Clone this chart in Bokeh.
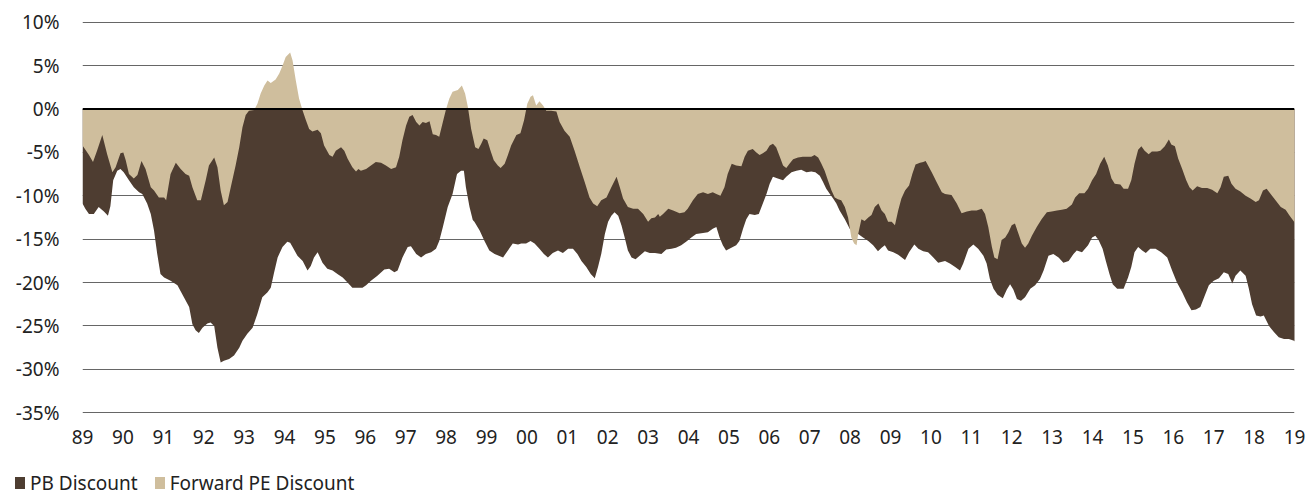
from bokeh.plotting import figure
from bokeh.layouts import column
from bokeh.models import Range1d, FixedTicker, Span, ColumnDataSource, Div
from bokeh.embed import file_html
from bokeh.resources import INLINE

# ---- data (decimal years, % discount) ----
pe_x = [1989.00, 1989.03, 1989.16, 1989.26, 1989.36, 1989.49, 1989.61, 1989.74, 1989.82, 1989.94,
        1990.01, 1990.07, 1990.15, 1990.27, 1990.36, 1990.46, 1990.56, 1990.69, 1990.77, 1990.89,
        1991.02, 1991.07, 1991.18, 1991.31, 1991.43, 1991.55, 1991.64, 1991.72, 1991.84, 1991.93,
        1992.05, 1992.13, 1992.26, 1992.34, 1992.42, 1992.50, 1992.59, 1992.67, 1992.79, 1992.88,
        1992.96, 1993.04, 1993.12, 1993.25, 1993.33, 1993.41, 1993.50, 1993.58, 1993.66, 1993.78,
        1993.87, 1993.95, 1994.03, 1994.14, 1994.20, 1994.28, 1994.36, 1994.45, 1994.53, 1994.61,
        1994.69, 1994.82, 1994.90, 1994.98, 1995.11, 1995.19, 1995.27, 1995.40, 1995.48, 1995.56,
        1995.68, 1995.77, 1995.83, 1995.89, 1996.02, 1996.14, 1996.26, 1996.39, 1996.51, 1996.64,
        1996.76, 1996.84, 1996.92, 1997.01, 1997.09, 1997.17, 1997.26, 1997.34, 1997.42, 1997.50,
        1997.59, 1997.67, 1997.75, 1997.83, 1997.92, 1998.00, 1998.08, 1998.16, 1998.29, 1998.39,
        1998.47, 1998.54, 1998.62, 1998.72, 1998.80, 1998.87, 1998.93, 1999.02, 1999.10, 1999.18,
        1999.28, 1999.35, 1999.45, 1999.53, 1999.61, 1999.74, 1999.84, 1999.93, 2000.01, 2000.09,
        2000.15, 2000.23, 2000.31, 2000.40, 2000.48, 2000.60, 2000.73, 2000.81, 2000.93, 2001.06,
        2001.18, 2001.31, 2001.43, 2001.55, 2001.64, 2001.74, 2001.84, 2001.97, 2002.09, 2002.22,
        2002.30, 2002.38, 2002.50, 2002.63, 2002.75, 2002.88, 2003.00, 2003.08, 2003.17, 2003.25,
        2003.29, 2003.37, 2003.50, 2003.62, 2003.78, 2003.90, 2003.98, 2004.11, 2004.23, 2004.36,
        2004.48, 2004.60, 2004.69, 2004.79, 2004.89, 2004.97, 2005.07, 2005.18, 2005.31, 2005.39,
        2005.47, 2005.59, 2005.68, 2005.76, 2005.84, 2005.93, 2006.01, 2006.09, 2006.17, 2006.26,
        2006.34, 2006.42, 2006.50, 2006.59, 2006.71, 2006.83, 2006.96, 2007.04, 2007.12, 2007.21,
        2007.29, 2007.37, 2007.45, 2007.54, 2007.62, 2007.70, 2007.78, 2007.87, 2007.95, 2008.03,
        2008.10, 2008.16, 2008.20, 2008.28, 2008.36, 2008.45, 2008.53, 2008.61, 2008.70, 2008.78,
        2008.86, 2008.94, 2009.03, 2009.11, 2009.19, 2009.27, 2009.36, 2009.46, 2009.54, 2009.62,
        2009.73, 2009.81, 2009.87, 2009.93, 2010.02, 2010.14, 2010.27, 2010.35, 2010.51, 2010.64,
        2010.76, 2010.89, 2011.01, 2011.13, 2011.26, 2011.34, 2011.42, 2011.51, 2011.57, 2011.65,
        2011.75, 2011.84, 2011.92, 2012.00, 2012.08, 2012.17, 2012.25, 2012.33, 2012.41, 2012.50,
        2012.62, 2012.74, 2012.87, 2012.99, 2013.12, 2013.24, 2013.36, 2013.49, 2013.57, 2013.67,
        2013.80, 2013.89, 2013.99, 2014.09, 2014.19, 2014.29, 2014.38, 2014.47, 2014.55, 2014.69,
        2014.77, 2014.88, 2014.96, 2015.04, 2015.13, 2015.21, 2015.29, 2015.39, 2015.47, 2015.60,
        2015.68, 2015.79, 2015.89, 2015.95, 2016.04, 2016.12, 2016.22, 2016.32, 2016.40, 2016.48,
        2016.59, 2016.71, 2016.84, 2016.96, 2017.09, 2017.17, 2017.25, 2017.36, 2017.44, 2017.54,
        2017.66, 2017.79, 2017.91, 2018.04, 2018.12, 2018.22, 2018.31, 2018.41, 2018.53, 2018.66,
        2018.78, 2018.88, 2018.99, 2019.05]
pe_y = [-4.2, -4.4, -5.3, -6.1, -4.8, -3.0, -5.2, -7.3, -6.7, -5.1,
        -5.0, -5.9, -7.5, -8.0, -7.6, -6.0, -6.9, -9.0, -9.4, -10.2,
        -10.2, -10.5, -7.5, -6.2, -6.9, -7.5, -7.7, -9.0, -10.5, -10.5,
        -8.2, -6.5, -5.6, -6.7, -9.4, -11.1, -10.7, -9.0, -6.5, -4.4,
        -2.1, -0.7, -0.2, -0.1, 0.6, 1.8, 2.7, 3.3, 3.0, 3.4,
        4.1, 5.0, 6.0, 6.5, 5.6, 3.3, 1.2, -0.2, -1.3, -2.3,
        -2.6, -2.4, -2.8, -4.2, -5.3, -5.5, -4.8, -4.4, -4.8, -5.7,
        -6.7, -7.2, -6.9, -7.1, -6.9, -6.5, -6.1, -6.2, -6.5, -6.9,
        -6.7, -5.5, -3.6, -1.9, -0.9, -0.7, -1.5, -1.9, -1.5, -1.6,
        -1.4, -2.9, -3.0, -3.2, -1.5, 0.0, 1.2, 2.0, 2.2, 2.7,
        1.8, 0.2, -2.3, -4.4, -4.6, -4.0, -3.4, -3.6, -4.8, -5.9,
        -6.5, -6.8, -6.3, -5.3, -4.2, -3.0, -2.8, -1.3, 0.6, 1.4,
        1.6, 0.4, 0.9, 0.4, -0.2, -0.2, -0.3, -1.5, -2.5, -3.2,
        -4.8, -6.7, -8.4, -10.2, -10.9, -11.2, -10.5, -10.2, -9.0, -7.8,
        -9.0, -10.3, -11.3, -11.5, -11.5, -12.1, -13.0, -12.6, -12.5, -12.1,
        -12.4, -12.1, -11.5, -11.7, -12.0, -11.9, -11.5, -10.5, -9.8, -9.6,
        -9.8, -9.6, -9.8, -10.0, -9.0, -7.5, -6.3, -6.5, -6.6, -5.5,
        -4.8, -4.6, -5.0, -5.3, -5.1, -4.8, -4.2, -4.0, -4.4, -5.5,
        -6.5, -6.8, -6.3, -5.8, -5.6, -5.5, -5.5, -5.5, -5.3, -5.6,
        -6.3, -7.1, -8.2, -9.4, -10.2, -10.4, -10.5, -11.3, -12.5, -14.8,
        -15.5, -15.7, -14.4, -12.7, -12.9, -12.5, -12.2, -11.3, -10.9, -11.7,
        -12.1, -13.0, -13.0, -13.4, -11.7, -10.3, -9.4, -8.8, -7.5, -6.4,
        -6.2, -6.1, -6.0, -6.5, -7.3, -8.4, -9.6, -9.8, -9.9, -10.9,
        -12.0, -11.8, -11.7, -11.7, -11.5, -12.1, -13.6, -15.9, -17.1, -17.3,
        -15.1, -14.8, -14.2, -13.4, -13.2, -14.4, -15.5, -16.0, -15.5, -14.6,
        -13.6, -12.7, -11.9, -11.8, -11.7, -11.6, -11.5, -11.0, -10.2, -9.7,
        -9.7, -9.2, -8.2, -7.5, -6.3, -5.5, -6.5, -8.0, -8.6, -8.7,
        -9.2, -9.2, -8.2, -6.3, -4.7, -4.3, -4.8, -5.2, -4.9, -4.9,
        -4.8, -4.3, -3.5, -4.1, -4.3, -5.7, -6.9, -8.2, -9.0, -9.4,
        -8.9, -9.1, -9.1, -9.3, -9.7, -9.0, -7.8, -7.7, -8.6, -9.2,
        -9.5, -10.0, -10.3, -10.7, -10.5, -9.4, -9.2, -9.8, -10.5, -11.3,
        -11.6, -12.3, -13.0, -13.4]

pb_x = [1989.00, 1989.07, 1989.16, 1989.28, 1989.40, 1989.53, 1989.63, 1989.69, 1989.76, 1989.86,
        1989.94, 1990.02, 1990.15, 1990.27, 1990.40, 1990.48, 1990.60, 1990.69, 1990.77, 1990.85,
        1990.93, 1991.02, 1991.18, 1991.35, 1991.51, 1991.64, 1991.72, 1991.80, 1991.88, 1991.97,
        1992.09, 1992.17, 1992.26, 1992.34, 1992.42, 1992.50, 1992.63, 1992.75, 1992.88, 1992.96,
        1993.08, 1993.21, 1993.33, 1993.45, 1993.58, 1993.66, 1993.74, 1993.83, 1993.95, 1994.07,
        1994.14, 1994.20, 1994.32, 1994.45, 1994.57, 1994.65, 1994.73, 1994.82, 1994.94, 1995.06,
        1995.19, 1995.31, 1995.44, 1995.56, 1995.68, 1995.81, 1995.93, 1996.02, 1996.14, 1996.30,
        1996.47, 1996.59, 1996.72, 1996.80, 1996.92, 1997.05, 1997.13, 1997.26, 1997.38, 1997.50,
        1997.63, 1997.75, 1997.83, 1997.92, 1998.04, 1998.16, 1998.27, 1998.37, 1998.44, 1998.49,
        1998.58, 1998.66, 1998.70, 1998.83, 1998.95, 1999.07, 1999.20, 1999.41, 1999.53, 1999.65,
        1999.78, 1999.86, 1999.98, 2000.09, 2000.19, 2000.31, 2000.42, 2000.52, 2000.64, 2000.77,
        2000.89, 2001.02, 2001.14, 2001.25, 2001.35, 2001.47, 2001.58, 2001.68, 2001.76, 2001.84,
        2001.93, 2002.01, 2002.09, 2002.17, 2002.26, 2002.34, 2002.42, 2002.50, 2002.59, 2002.69,
        2002.79, 2002.92, 2003.04, 2003.17, 2003.33, 2003.45, 2003.58, 2003.69, 2003.82, 2003.94,
        2004.07, 2004.19, 2004.36, 2004.48, 2004.60, 2004.69, 2004.77, 2004.85, 2004.93, 2005.06,
        2005.18, 2005.26, 2005.35, 2005.43, 2005.51, 2005.64, 2005.74, 2005.84, 2005.93, 2006.01,
        2006.09, 2006.21, 2006.34, 2006.42, 2006.55, 2006.67, 2006.79, 2006.92, 2007.04, 2007.14,
        2007.25, 2007.33, 2007.41, 2007.50, 2007.58, 2007.66, 2007.74, 2007.87, 2007.99, 2008.07,
        2008.20, 2008.32, 2008.45, 2008.57, 2008.69, 2008.78, 2008.86, 2008.94, 2009.07, 2009.19,
        2009.36, 2009.46, 2009.59, 2009.69, 2009.81, 2009.93, 2010.06, 2010.18, 2010.35, 2010.47,
        2010.60, 2010.72, 2010.80, 2010.93, 2011.05, 2011.17, 2011.30, 2011.38, 2011.46, 2011.55,
        2011.65, 2011.78, 2011.88, 2011.96, 2012.04, 2012.13, 2012.23, 2012.33, 2012.46, 2012.58,
        2012.70, 2012.79, 2012.91, 2013.03, 2013.16, 2013.28, 2013.41, 2013.53, 2013.61, 2013.74,
        2013.89, 2013.99, 2014.07, 2014.15, 2014.25, 2014.33, 2014.42, 2014.50, 2014.61, 2014.77,
        2014.88, 2014.96, 2015.04, 2015.13, 2015.23, 2015.32, 2015.43, 2015.56, 2015.70, 2015.85,
        2015.97, 2016.09, 2016.22, 2016.34, 2016.45, 2016.56, 2016.67, 2016.78, 2016.88, 2017.00,
        2017.13, 2017.25, 2017.36, 2017.46, 2017.54, 2017.66, 2017.79, 2017.87, 2017.95, 2018.05,
        2018.16, 2018.24, 2018.37, 2018.49, 2018.61, 2018.74, 2018.86, 2018.99, 2019.05]
pb_y = [-10.9, -11.5, -12.1, -12.1, -11.3, -11.8, -12.3, -11.2, -8.2, -7.1,
        -6.9, -7.3, -8.2, -9.0, -9.6, -9.8, -10.9, -12.1, -14.0, -16.7,
        -19.0, -19.4, -19.8, -20.3, -21.7, -22.8, -24.8, -25.5, -25.8, -25.2,
        -24.7, -24.6, -25.0, -27.5, -29.2, -29.0, -28.8, -28.4, -27.5, -26.7,
        -25.9, -25.2, -23.6, -21.7, -21.1, -20.6, -18.9, -17.1, -15.9, -15.3,
        -15.4, -15.9, -16.9, -17.5, -18.6, -18.1, -17.1, -16.5, -17.7, -18.4,
        -18.6, -19.0, -19.4, -20.0, -20.6, -20.6, -20.6, -20.3, -19.8, -19.2,
        -18.5, -18.4, -18.8, -18.6, -17.1, -15.9, -15.8, -16.7, -17.1, -16.7,
        -16.5, -16.1, -15.2, -13.6, -11.3, -9.8, -7.5, -7.1, -7.1, -9.0,
        -11.3, -12.8, -13.0, -14.0, -15.2, -16.3, -16.7, -17.1, -16.3, -15.5,
        -15.6, -15.5, -15.5, -15.2, -15.5, -16.1, -16.7, -17.1, -16.6, -16.3,
        -16.6, -16.1, -16.1, -16.7, -17.5, -18.2, -19.0, -19.5, -18.2, -16.7,
        -14.4, -13.0, -12.3, -11.9, -12.3, -13.4, -14.8, -16.3, -17.1, -17.3,
        -16.9, -16.4, -16.6, -16.6, -16.7, -16.2, -16.1, -16.0, -15.7, -15.3,
        -14.8, -14.4, -14.3, -14.2, -13.8, -13.6, -14.8, -15.7, -16.3, -16.0,
        -15.7, -15.2, -13.8, -12.7, -12.1, -12.2, -12.1, -10.9, -9.8, -8.6,
        -7.8, -8.0, -8.2, -7.8, -7.3, -7.1, -7.0, -7.3, -7.2, -7.3,
        -7.7, -8.4, -9.2, -9.8, -10.3, -10.9, -11.7, -12.7, -13.8, -14.2,
        -14.4, -14.8, -15.2, -15.7, -16.4, -16.0, -15.7, -16.3, -16.5, -16.8,
        -17.4, -16.5, -15.6, -16.1, -16.4, -16.5, -17.1, -17.7, -17.5, -17.8,
        -18.2, -18.6, -17.8, -16.1, -15.6, -16.1, -16.9, -17.8, -19.6, -20.7,
        -21.4, -21.8, -20.8, -20.2, -20.8, -21.9, -22.1, -21.7, -20.7, -20.3,
        -19.6, -18.6, -16.9, -16.7, -17.1, -17.7, -17.5, -16.7, -16.3, -16.5,
        -15.7, -14.8, -14.6, -15.1, -16.1, -17.5, -19.0, -20.2, -20.7, -20.7,
        -19.4, -18.2, -16.5, -15.9, -16.3, -16.6, -16.1, -16.1, -16.5, -17.1,
        -18.6, -20.0, -21.1, -22.3, -23.2, -23.1, -22.8, -21.5, -20.3, -19.8,
        -19.5, -18.8, -19.0, -20.1, -19.2, -18.6, -19.2, -20.7, -22.5, -23.8,
        -23.9, -23.8, -25.0, -25.7, -26.3, -26.5, -26.5, -26.7, -26.9]

year_ticks = list(range(1989, 2020))
year_labels = ["89", "90", "91", "92", "93", "94", "95", "96", "97", "98", "99",
               "00", "01", "02", "03", "04", "05", "06", "07", "08", "09",
               "10", "11", "12", "13", "14", "15", "16", "17", "18", "19"]
pct_ticks = [10, 5, 0, -5, -10, -15, -20, -25, -30, -35]
pct_labels = ["10%", "5%", "0%", "-5%", "-10%", "-15%", "-20%", "-25%", "-30%", "-35%"]

series_names = ["PB Discount", "Forward PE Discount"]
DARK = "#4e3d31"
TAN = "#cfbe9d"
series_colors = [DARK, TAN]
FONT = "Noto Sans"
TXT = "#222222"

# ---- main chart ----
p = figure(width=1309, height=470, output_backend="svg", toolbar_location=None,
           x_range=Range1d(1989, 2019), y_range=Range1d(-35.2, 10.2),
           min_border_left=82, min_border_right=15, min_border_top=20, min_border_bottom=56)
p.outline_line_color = None
p.background_fill_color = "white"

p.varea(x="x", y1=0, y2="y", source=ColumnDataSource(dict(x=pb_x, y=pb_y)), fill_color=DARK)
p.varea(x="x", y1=0, y2="y", source=ColumnDataSource(dict(x=pe_x, y=pe_y)), fill_color=TAN)

p.add_layout(Span(location=0, dimension="width", line_color="black", line_width=2))

p.xaxis.ticker = FixedTicker(ticks=year_ticks)
p.xaxis.major_label_overrides = {t: l for t, l in zip(year_ticks, year_labels)}
p.yaxis.ticker = FixedTicker(ticks=pct_ticks)
p.yaxis.major_label_overrides = {t: l for t, l in zip(pct_ticks, pct_labels)}
for ax in (p.xaxis, p.yaxis):
    ax.axis_line_color = None
    ax.major_tick_line_color = None
    ax.minor_tick_line_color = None
    ax.major_label_text_font = FONT
    ax.major_label_text_font_size = "19px"
    ax.major_label_text_color = TXT
p.xaxis.major_label_standoff = 9
p.yaxis.major_label_standoff = 17

p.xgrid.grid_line_color = None
p.ygrid.ticker = FixedTicker(ticks=pct_ticks)
p.ygrid.grid_line_color = "#666666"
p.ygrid.grid_line_width = 1

# ---- legend row (HTML text, colour keys match the series fills) ----
items_html = "".join(
    f'<span style="display:inline-block;width:10px;height:12px;background:{c};'
    f'margin-right:5px;vertical-align:1px"></span>'
    f'<span style="margin-right:17px">{name}</span>'
    for name, c in zip(series_names, series_colors))
legend_div = Div(text=f'<div style="white-space:nowrap;line-height:22px">{items_html}</div>',
                 width=1309, height=24, margin=0,
                 styles={"font-family": FONT, "font-size": "19px", "color": TXT,
                         "padding-left": "15px", "padding-top": "0px",
                         "box-sizing": "border-box", "overflow": "visible"})

layout = column(p, legend_div, spacing=0)
open("out.html", "w").write(file_html(layout, INLINE))
